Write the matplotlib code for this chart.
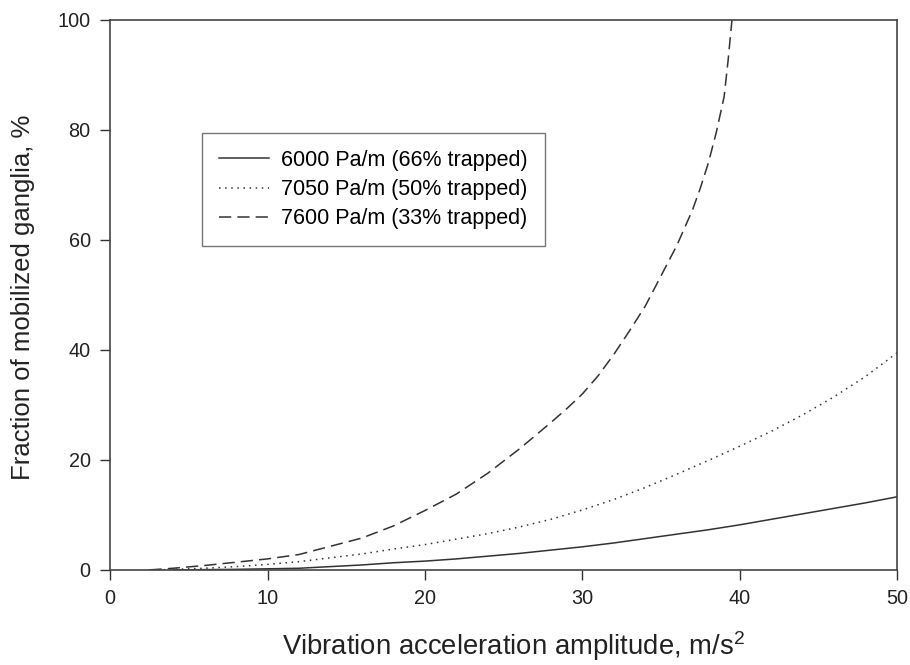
import matplotlib
matplotlib.use('Agg')
import matplotlib.pyplot as plt

plt.rcParams['font.family'] = ['Liberation Sans', 'DejaVu Sans']
plt.rcParams['mathtext.fontset'] = 'custom'
plt.rcParams['mathtext.rm'] = 'Liberation Sans'
plt.rcParams['mathtext.it'] = 'Liberation Sans:italic'

# 6000 Pa/m (66% trapped)
x_6000 = [4, 8, 10, 12, 14, 16, 18, 20, 22, 24, 26, 28, 30, 32, 34, 36, 38, 40, 42, 44, 46, 48, 50]
y_6000 = [0, 0.1, 0.2, 0.3, 0.6, 0.9, 1.3, 1.6, 2.0, 2.5, 3.0, 3.6, 4.2, 4.9, 5.7, 6.5, 7.3, 8.2, 9.2, 10.2, 11.2, 12.2, 13.3]

# 7050 Pa/m (50% trapped)
x_7050 = [3, 6, 8, 10, 12, 14, 16, 18, 20, 22, 24, 26, 28, 30, 32, 34, 36, 38, 40, 42, 44, 46, 48, 50]
y_7050 = [0, 0.3, 0.6, 1.0, 1.5, 2.2, 2.9, 3.8, 4.6, 5.6, 6.6, 7.8, 9.2, 10.9, 12.8, 15.0, 17.4, 19.9, 22.5, 25.2, 28.2, 31.5, 35.2, 39.5]

# 7600 Pa/m (33% trapped)
x_7600 = [2.5, 4, 6, 8, 10, 12, 14, 16, 18, 20, 22, 24, 26, 28, 29, 30, 31, 32, 33, 34, 35, 36, 37,
          37.5, 38, 38.5, 39, 39.25, 39.5]
y_7600 = [0, 0.3, 0.8, 1.4, 2.0, 2.8, 4.3, 5.8, 8.0, 10.8, 13.8, 17.6, 22, 26.8, 29.3, 32.0, 35.3, 39.2, 43.5, 48, 53.5, 59, 65.5,
          69.5, 74, 79.5, 86, 92.5, 100]

labels = ['6000 Pa/m (66% trapped)', '7050 Pa/m (50% trapped)', '7600 Pa/m (33% trapped)']

fig = plt.figure(figsize=(9.1, 6.65), dpi=100)
ax = fig.add_axes([0.121, 0.143, 0.865, 0.827])

c = '#333333'
ax.plot(x_6000, y_6000, color=c, lw=1.1, label=labels[0])
ax.plot(x_7050, y_7050, color=c, lw=1.1, dashes=(1, 3), label=labels[1])
ax.plot(x_7600, y_7600, color=c, lw=1.1, dashes=(8, 4), label=labels[2])

ax.set_xlim(0, 50)
ax.set_ylim(0, 100)
ax.set_xticks([0, 10, 20, 30, 40, 50])
ax.set_yticks([0, 20, 40, 60, 80, 100])
ax.tick_params(direction='out', length=7, width=1, colors=c, labelsize=14.3, labelcolor='#222222', pad=7)
for s in ax.spines.values():
    s.set_color('#444444')
    s.set_linewidth(1.2)

ax.set_xlabel('Vibration acceleration amplitude, m/s$^2$', fontsize=19.8, color='#222222')
ax.xaxis.set_label_coords(0.513, -0.108)
ax.set_ylabel('Fraction of mobilized ganglia, %', fontsize=18.5, color='#222222')
ax.yaxis.set_label_coords(-0.096, 0.495)

leg = ax.legend(loc='upper left', bbox_to_anchor=(0.117, 0.795), fontsize=15.5, fancybox=False,
                edgecolor='#555555', handlelength=2.3, borderpad=0.8, labelspacing=0.38,
                handletextpad=0.55, borderaxespad=0)
leg.get_frame().set_linewidth(1.0)

fig.savefig('out.png', dpi=100)
